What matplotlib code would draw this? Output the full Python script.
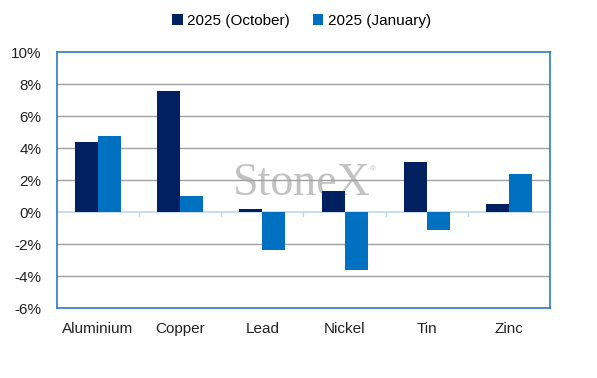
import matplotlib.pyplot as plt
import numpy as np

# dati
metals = ["Aluminium", "Copper", "Lead", "Nickel", "Tin", "Zinc"]
oct_2025 = [4.36, 7.58, 0.20, 1.33, 3.15, 0.52]
jan_2025 = [4.77, 1.00, -2.35, -3.62, -1.10, 2.35]
yticks = [-6, -4, -2, 0, 2, 4, 6, 8, 10]

navy = "#002060"
blue = "#0070C0"
border = "#2E7CC4"

plt.rcParams['font.family'] = ['Liberation Sans', 'DejaVu Sans']

fig = plt.figure(figsize=(5.97, 3.78), dpi=100)
ax = fig.add_axes([57/597, 1 - 308/378, 493/597, 256/378])

x = np.arange(len(metals))
w = 0.28
ax.bar(x - w/2, oct_2025, w, color=navy, label="2025 (October)", zorder=3)
ax.bar(x + w/2, jan_2025, w, color=blue, label="2025 (January)", zorder=3)

ax.set_xlim(-0.5, len(metals) - 0.5)
ax.set_ylim(-6, 10)
ax.set_yticks(yticks)
ax.set_yticklabels([f"{t}%" for t in yticks])

# griglia orizzontale (senza bordi e senza lo zero)
for t in yticks:
    if t not in (-6, 0, 10):
        ax.axhline(t, color="#A0A0A0", lw=1.0, zorder=1)
ax.axhline(0, color="#BDD7EE", lw=1.2, zorder=2)
for b in np.arange(0.5, len(metals) - 0.5):
    ax.plot([b, b], [0, -0.25], color="#BDD7EE", lw=1.0, zorder=2)

ax.set_xticks(x)
ax.set_xticklabels(metals)
ax.tick_params(length=0, labelsize=11, colors="#222222")
ax.tick_params(axis="x", pad=10)
ax.tick_params(axis="y", pad=11)
for s in ax.spines.values():
    s.set_color(border)
    s.set_linewidth(1.2)

# watermark (sotto griglia e barre)
ax.text(0.505, 0.484, "StoneX", fontsize=33, family="Liberation Serif",
        color="#C2C2C2", ha="center", va="baseline", zorder=0.5,
        transform=fig.transFigure)
ax.text(0.624, 0.55, "®", fontsize=6, color="#C2C2C2", ha="center",
        va="center", zorder=0.5, transform=fig.transFigure)

fig.legend(loc="upper center", bbox_to_anchor=(0.505, 1.0), ncol=2, frameon=False,
           fontsize=11, handlelength=0.7, handleheight=0.7, handletextpad=0.3,
           columnspacing=1.5)

fig.savefig("out.png", dpi=100)
